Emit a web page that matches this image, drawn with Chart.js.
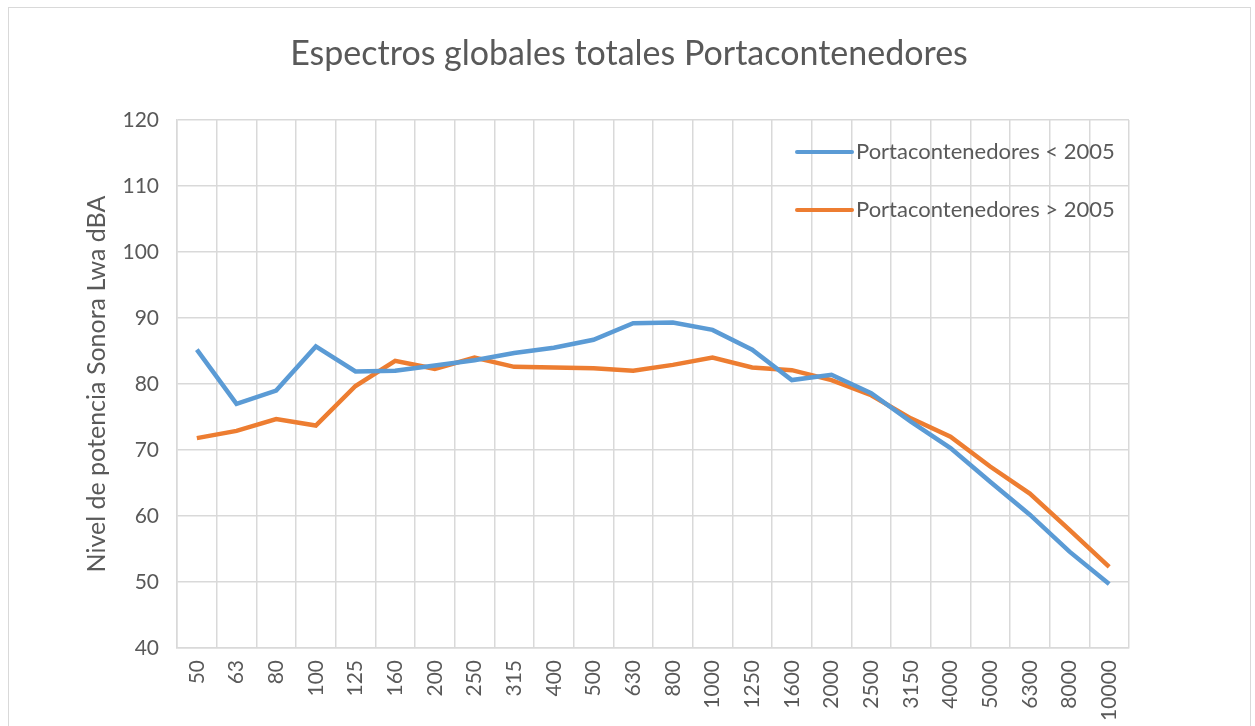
<!DOCTYPE html>
<html>
<head>
<meta charset="utf-8">
<script src="https://cdn.jsdelivr.net/npm/chart.js@4.4.1/dist/chart.umd.min.js"></script>
<style>
    html, body { margin: 0; padding: 0; background: #fff; }
    #contenedor { width: 1255px; height: 726px; }
</style>
</head>
<body>
<div id="contenedor"><canvas id="canvas_grafica" width="1255" height="726"></canvas></div>
<script>
// Datos (bandas de tercio de octava, Hz)
const titulo = 'Espectros globales totales Portacontenedores';
const titulo_eje_y = 'Nivel de potencia Sonora Lwa dBA';
const frecuencias = ['50', '63', '80', '100', '125', '160', '200', '250', '315', '400', '500', '630',
    '800', '1000', '1250', '1600', '2000', '2500', '3150', '4000', '5000', '6300', '8000', '10000'];
const antes_2005 = [85.2, 77.0, 79.0, 85.7, 81.9, 82.0, 82.8, 83.6, 84.7, 85.5, 86.7, 89.2,
    89.3, 88.2, 85.2, 80.6, 81.4, 78.6, 74.3, 70.3, 65.2, 60.2, 54.6, 49.7];
const despues_2005 = [71.8, 72.9, 74.7, 73.7, 79.7, 83.5, 82.3, 84.0, 82.6, 82.5, 82.4, 82.0,
    82.9, 84.0, 82.5, 82.1, 80.6, 78.3, 74.8, 72.0, 67.5, 63.4, 57.9, 52.3];
const etiquetas_series = ['Portacontenedores < 2005', 'Portacontenedores > 2005'];

const color_texto = '#595959';
const color_rejilla = '#D9D9D9';
const fuente = 'Lato, "Open Sans", sans-serif';

// Titulo, leyenda dentro del area y marco exterior
const decoracion = {
    id: 'decoracion',
    afterDraw(chart) {
        const ctx = chart.ctx;
        const area = chart.chartArea;
        ctx.save();
        ctx.strokeStyle = '#D9D9D9';
        ctx.lineWidth = 1;
        ctx.strokeRect(8.5, 7.5, 1242, 740);

        ctx.fillStyle = color_texto;
        ctx.font = '34px ' + fuente;
        ctx.textAlign = 'center';
        ctx.textBaseline = 'middle';
        ctx.fillText(titulo, 629, 54);

        ctx.font = '22px ' + fuente;
        ctx.textAlign = 'left';
        chart.data.datasets.forEach(function (ds, i) {
            const y = area.top + 32 + i * 58;
            ctx.strokeStyle = ds.borderColor;
            ctx.lineWidth = 4;
            ctx.lineCap = 'round';
            ctx.beginPath();
            ctx.moveTo(area.right - 332, y);
            ctx.lineTo(area.right - 277, y);
            ctx.stroke();
            ctx.fillStyle = color_texto;
            ctx.fillText(ds.label, area.right - 273, y);
        });
        ctx.restore();
    }
};

const ctx = document.getElementById('canvas_grafica').getContext('2d');
new Chart(ctx, {
    type: 'line',
    data: {
        labels: frecuencias,
        datasets: [{
            label: etiquetas_series[0],
            data: antes_2005,
            borderColor: '#5B9BD5',
            borderWidth: 4.5,
            pointRadius: 0,
            tension: 0,
            fill: false
        }, {
            label: etiquetas_series[1],
            data: despues_2005,
            borderColor: '#ED7D31',
            borderWidth: 4.5,
            pointRadius: 0,
            tension: 0,
            fill: false
        }]
    },
    options: {
        responsive: false,
        animation: false,
        devicePixelRatio: 1,
        layout: {
            padding: { top: 120, right: 126, bottom: 0, left: 0 }
        },
        plugins: {
            legend: { display: false },
            title: { display: false },
            tooltip: { enabled: false }
        },
        scales: {
            x: {
                offset: true,
                grid: { offset: true, color: color_rejilla, lineWidth: 1.5, drawTicks: false },
                border: { color: color_rejilla, width: 1.5 },
                ticks: {
                    autoSkip: false,
                    maxRotation: 90,
                    minRotation: 90,
                    padding: 12,
                    color: color_texto,
                    font: { family: fuente, size: 21 }
                },
                afterFit: function (scale) { scale.height = 78; }
            },
            y: {
                min: 40,
                max: 120,
                ticks: {
                    stepSize: 10,
                    padding: 18,
                    color: color_texto,
                    font: { family: fuente, size: 21 }
                },
                grid: { color: color_rejilla, lineWidth: 1.5, drawTicks: false },
                border: { color: color_rejilla, width: 1.5 },
                title: {
                    display: true,
                    text: titulo_eje_y,
                    color: color_texto,
                    font: { family: fuente, size: 25 },
                    padding: { top: 82, bottom: 0 }
                },
                afterFit: function (scale) { scale.width = 177; }
            }
        }
    },
    plugins: [decoracion]
});
</script>
</body>
</html>
